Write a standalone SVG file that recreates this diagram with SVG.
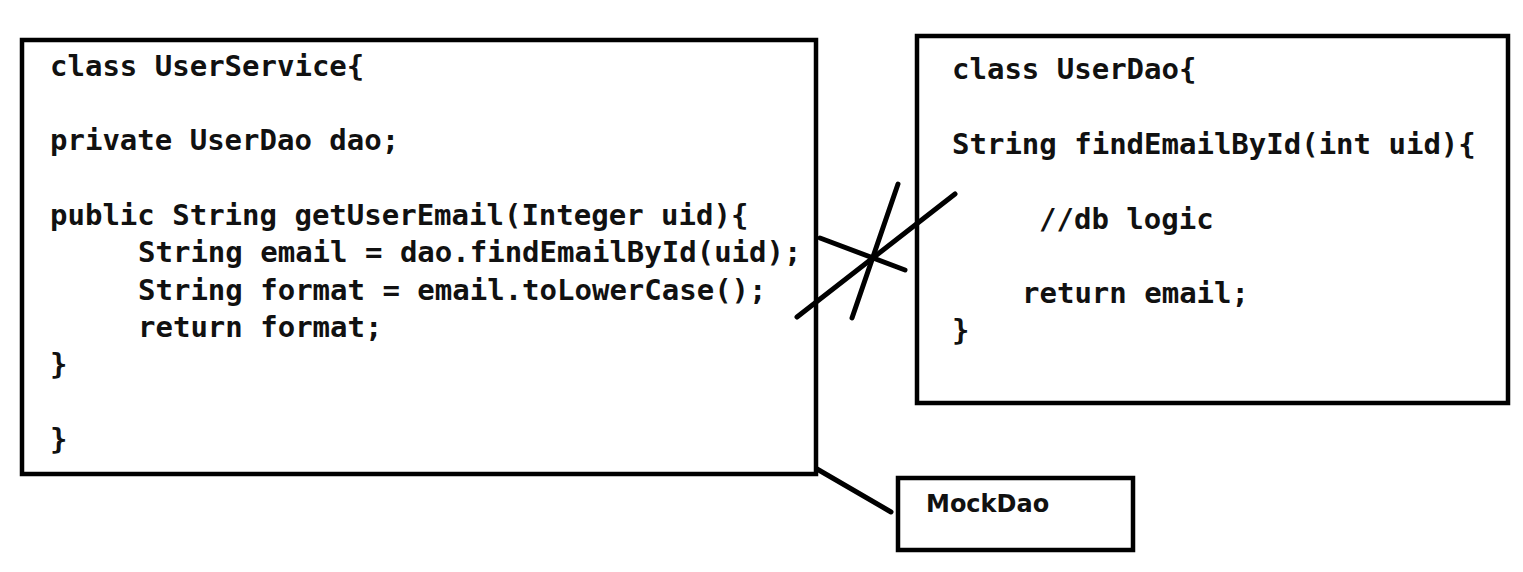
<svg xmlns="http://www.w3.org/2000/svg" width="1523" height="572" viewBox="0 0 1523 572">
<style>
.box{fill:#fff;stroke:#000;stroke-width:4.5}
.code{font-family:"DejaVu Sans Mono","Liberation Mono",monospace;font-weight:bold;font-size:29px;fill:#111}
.label{font-family:"DejaVu Sans","Liberation Sans",sans-serif;font-weight:bold;font-size:24px;fill:#111}
.ln{stroke:#000;stroke-width:5;stroke-linecap:round;fill:none}
</style>
<rect width="1523" height="572" fill="#fff"/>
<g id="userService">
<rect class="box" x="22" y="40" width="794" height="434"/>
<text class="code" x="50" y="76">class UserService{</text>
<text class="code" x="50" y="150">private UserDao dao;</text>
<text class="code" x="50" y="225">public String getUserEmail(Integer uid){</text>
<text class="code" x="138" y="262">String email = dao.findEmailById(uid);</text>
<text class="code" x="138" y="300">String format = email.toLowerCase();</text>
<text class="code" x="138" y="337">return format;</text>
<text class="code" x="50" y="374">}</text>
<text class="code" x="50" y="449">}</text>
</g>
<g id="userDao">
<rect class="box" x="917" y="36" width="591" height="367"/>
<text class="code" x="952" y="79">class UserDao{</text>
<text class="code" x="952" y="154">String findEmailById(int uid){</text>
<text class="code" x="1039" y="229">//db logic</text>
<text class="code" x="1022" y="303">return email;</text>
<text class="code" x="952" y="340">}</text>
</g>
<g id="mockDao">
<rect class="box" x="898" y="478" width="235" height="72"/>
<text class="label" x="926" y="512">MockDao</text>
</g>
<g id="connectors">
<line class="ln" x1="820" y1="238" x2="905" y2="270"/>
<line class="ln" x1="898" y1="184" x2="852" y2="318"/>
<line class="ln" x1="955" y1="194" x2="797" y2="317"/>
<line class="ln" x1="817" y1="469" x2="891" y2="512"/>
</g>
</svg>
